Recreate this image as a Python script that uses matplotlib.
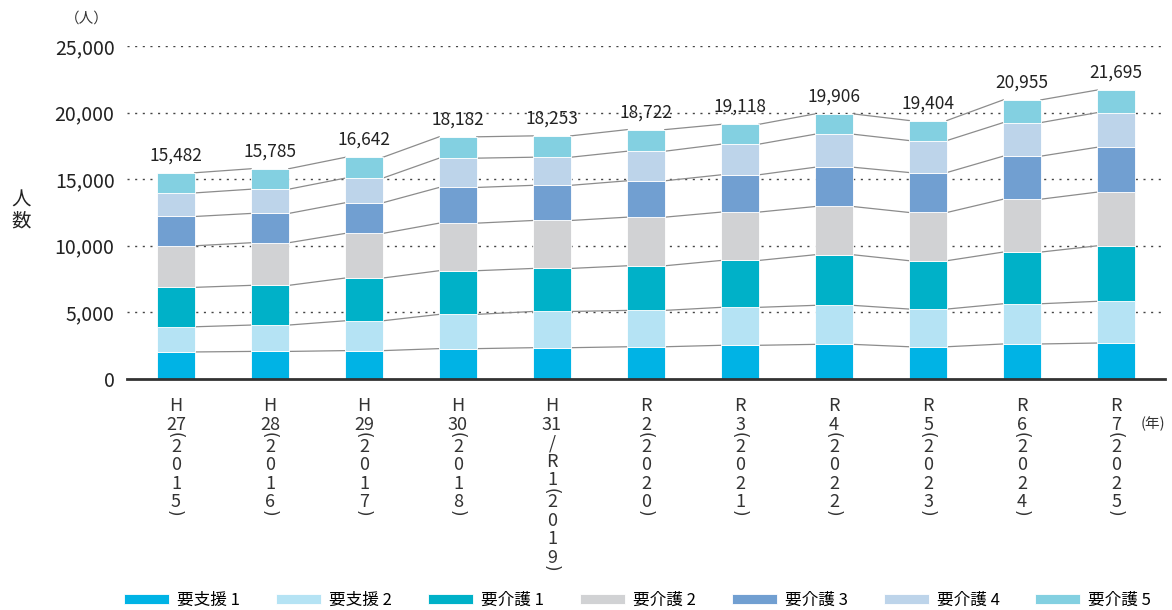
import matplotlib
matplotlib.use("Agg")
import matplotlib.pyplot as plt
import numpy as np

plt.rcParams['font.family'] = ['Noto Sans CJK JP', 'DejaVu Sans']

# era / year labels (stacked vertically under each bar)
eras = [["H", "27"], ["H", "28"], ["H", "29"], ["H", "30"], ["H", "31", "/", "R", "1"],
        ["R", "2"], ["R", "3"], ["R", "4"], ["R", "5"], ["R", "6"], ["R", "7"]]
years = ["2015", "2016", "2017", "2018", "2019", "2020", "2021", "2022", "2023", "2024", "2025"]

categories = ["要支援 1", "要支援 2", "要介護 1", "要介護 2", "要介護 3", "要介護 4", "要介護 5"]

shien1 = [2030, 2070, 2130, 2280, 2350, 2420, 2530, 2600, 2420, 2630, 2700]
shien2 = [1890, 1980, 2240, 2570, 2720, 2730, 2850, 2930, 2830, 3020, 3130]
kaigo1 = [2960, 2980, 3210, 3280, 3230, 3350, 3520, 3800, 3630, 3880, 4170]
kaigo2 = [3120, 3200, 3350, 3570, 3600, 3650, 3630, 3620, 3620, 3970, 4030]
kaigo3 = [2200, 2200, 2300, 2680, 2640, 2730, 2800, 2950, 3000, 3230, 3370]
kaigo4 = [1770, 1820, 1850, 2200, 2110, 2220, 2300, 2480, 2400, 2520, 2600]
kaigo5 = [1512, 1535, 1562, 1602, 1603, 1622, 1488, 1526, 1504, 1705, 1695]
totals = [15482, 15785, 16642, 18182, 18253, 18722, 19118, 19906, 19404, 20955, 21695]

colors = ["#00b3e5", "#b5e3f4", "#00b1c8", "#d1d2d4", "#719fd1", "#bdd4ea", "#83d0e1"]

series = [shien1, shien2, kaigo1, kaigo2, kaigo3, kaigo4, kaigo5]

fig = plt.figure(figsize=(11.72, 6.10), dpi=100)
ax = fig.add_axes([0.1084, 0.3787, 0.8856, 0.5459])

x = np.arange(len(years))
w = 0.4
bottom = np.zeros(len(years))
for vals, c, name in zip(series, colors, categories):
    vals = np.array(vals, dtype=float)
    ax.bar(x, vals, w, bottom=bottom, color=c, edgecolor="white", linewidth=0.6,
           label=name, zorder=3)
    top = bottom + vals
    # connector lines between bars
    for i in range(len(x) - 1):
        ax.plot([x[i] + w / 2, x[i + 1] - w / 2], [top[i], top[i + 1]],
                color="#8c8c8c", lw=0.9, zorder=2)
    bottom = top

for xi, t in zip(x, totals):
    ax.annotate(f"{t:,}", (xi, t), xytext=(0, 6), textcoords="offset points",
                ha="center", va="bottom", fontsize=12.5, color="#222222")

ax.set_ylim(0, 25000)
ax.set_xlim(-0.52, 10.52)
ax.set_yticks(range(0, 25001, 5000))
ax.set_yticklabels([f"{v:,}" for v in range(0, 25001, 5000)], fontsize=14, color="#222222")
for v in range(5000, 25001, 5000):
    ax.axhline(v, color="#444444", lw=1.0, ls=(0, (1.5, 4)), zorder=1)

ax.set_xticks(x)
ax.set_xticklabels([])
ax.tick_params(axis="both", length=0)
ax.tick_params(axis="y", pad=9)

# vertical tick labels, one character (or pair of digits) per row;
# the brackets are "(" and ")" turned a quarter turn
trans = ax.get_xaxis_transform()
for xi, era, yr in zip(x, eras, years):
    rows = [(s, "t") for s in era] + [("(", "o")] + [(d, "t") for d in yr] + [(")", "c")]
    pos = 27.5
    prev = None
    for s, kind in rows:
        if prev is not None:
            if kind in ("o", "c"):
                pos += 10.5
            elif prev == "o":
                pos += 11.5
            else:
                pos += 18.5
        br = kind in ("o", "c")
        ax.annotate(s, (xi, 0), xycoords=trans,
                    xytext=(-1.3 if br else 0, -pos * 0.72),
                    textcoords="offset points", ha="center", va="center",
                    fontsize=12 if br else 13, rotation=-90 if br else 0,
                    family=["DejaVu Sans"] if br else None,
                    color="#333333", annotation_clip=False)
        prev = kind

for s in ["top", "right", "left"]:
    ax.spines[s].set_visible(False)
ax.spines["bottom"].set_color("#333333")
ax.spines["bottom"].set_linewidth(2)
ax.spines["bottom"].set_zorder(5)

fig.text(0.074, 0.97, "（人）", fontsize=10.5, ha="center", va="center", color="#333333")
fig.text(0.018, 0.655, "人\n数", fontsize=14, ha="center", va="center", linespacing=1.0, color="#222222")
fig.text(0.984, 0.305, "(年)", fontsize=10.5, ha="center", va="center", color="#333333")

fig.legend(loc="center", bbox_to_anchor=(0.544, 0.016), ncol=7, frameon=False,
           fontsize=12, handlelength=2.7, handleheight=0.6, columnspacing=2.16,
           handletextpad=0.48, borderpad=0.1)

fig.savefig("out.png", dpi=100)
